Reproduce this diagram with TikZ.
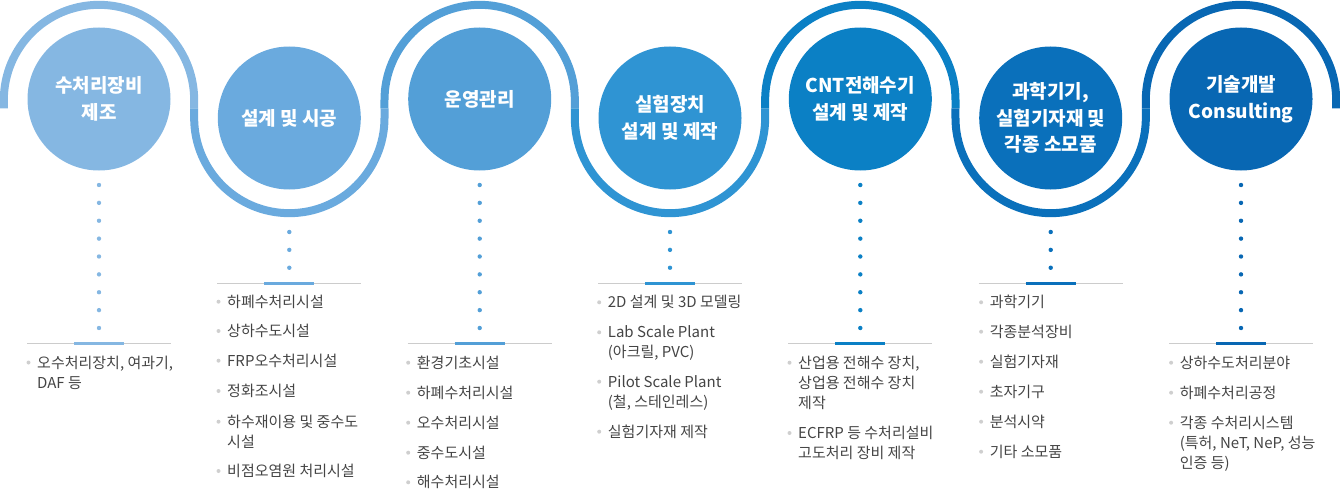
\documentclass[tikz,border=0pt]{standalone}
\usepackage{fontspec}
\setmainfont{Noto Sans CJK KR}
\definecolor{c1}{HTML}{85B7E2}
\definecolor{c2}{HTML}{6AAADE}
\definecolor{c3}{HTML}{539FD7}
\definecolor{c4}{HTML}{2F94D3}
\definecolor{c5}{HTML}{0B80C5}
\definecolor{c6}{HTML}{0A70BB}
\definecolor{c7}{HTML}{0867B3}
\definecolor{txtgray}{HTML}{444444}
\definecolor{bulgray}{HTML}{CFCFCF}
\definecolor{rulegray}{HTML}{CCCCCC}
\newcommand\litem[3]{\fill[bulgray] ({#1-8.5},{-#2}) circle (2);
  \node[itemtxt] at (#1,{-#2}) {#3};}
\newcommand\lcont[3]{\node[itemtxt] at (#1,{-#2}) {#3};}
\begin{document}
\begin{tikzpicture}[x=1pt,y=1pt,
  ring/.style={line width=8pt},
  disc/.style={circle, minimum size=143pt, inner sep=0pt, text=white,
    font=\fontsize{19}{26.7}\selectfont\bfseries, align=center},
  itemtxt/.style={anchor=west, inner sep=0pt, text=txtgray,
    font=\fontsize{15}{20}\selectfont, text height=13.1pt, text depth=1.8pt}]
\useasboundingbox (0,0) rectangle (1340,-500);
% ring segments
\foreach \i/\cy/\e/\c in {1/100/0/c1, 2/118/360/c2, 3/100/0/c3, 4/118/360/c4,
                          5/100/0/c5, 6/118/360/c6, 7/100/0/c7} {
  \pgfmathsetmacro\cx{99+(\i-1)*190.33}
  \draw[ring, \c] ({\cx-95.17},-108.5) -- ({\cx-95.17},-\cy)
     arc[start angle=180, end angle=\e, radius=95.17] -- ({\cx+95.17},-108.5);
}
% circles
\node[disc, fill=c1] (n1) at (99,-99) {수처리장비\\제조};
\node[disc, fill=c2] (n2) at (289.3,-118) {설계 및 시공};
\node[disc, fill=c3] (n3) at (479.7,-99) {운영관리};
\node[disc, fill=c4] (n4) at (670,-118) {실험장치\\설계 및 제작};
\node[disc, fill=c5] (n5) at (860.3,-99) {CNT전해수기\\설계 및 제작};
\node[disc, fill=c6] (n6) at (1050.7,-118) {과학기기,\\실험기자재 및\\각종 소모품};
\node[disc, fill=c7] (n7) at (1241,-99) {기술개발\\Consulting};
% dotted columns and rules
\foreach \cx/\c in {99/c1, 479.7/c3, 860.3/c5, 1241/c7} {
  \foreach \k in {0,...,8} \fill[\c] (\cx,{-185-\k*17.875}) circle (2.2);
  \draw[rulegray, line width=1pt] ({\cx-72},-343) -- ({\cx+72},-343);
  \draw[\c, line width=3.5pt] ({\cx-25},-343.3) -- ({\cx+25},-343.3);
}
\foreach \cx/\c in {289.3/c2, 670/c4, 1050.7/c6} {
  \foreach \k in {0,...,2} \fill[\c] (\cx,{-232-\k*17.875}) circle (2.2);
  \draw[rulegray, line width=1pt] ({\cx-72},-283) -- ({\cx+72},-283);
  \draw[\c, line width=3.5pt] ({\cx-25},-283.3) -- ({\cx+25},-283.3);
}
% lists
\litem{37}{362.5}{오수처리장치, 여과기,}
\lcont{37}{383}{DAF 등}

\litem{227}{301.7}{하폐수처리시설}
\litem{227}{331}{상하수도시설}
\litem{227}{360.7}{FRP오수처리시설}
\litem{227}{391}{정화조시설}
\litem{227}{421.7}{하수재이용 및 중수도}
\lcont{227}{441.7}{시설}
\litem{227}{471}{비점오염원 처리시설}

\litem{416.7}{362.7}{환경기초시설}
\litem{416.7}{392.7}{하폐수처리시설}
\litem{416.7}{422.7}{오수처리시설}
\litem{416.7}{452.7}{중수도시설}
\litem{416.7}{482.3}{해수처리시설}

\litem{607.7}{302.3}{2D 설계 및 3D 모델링}
\litem{607.7}{332.3}{Lab Scale Plant}
\lcont{607.7}{352.3}{(아크릴, PVC)}
\litem{607.7}{381.7}{Pilot Scale Plant}
\lcont{607.7}{401.7}{(철, 스테인레스)}
\litem{607.7}{431.7}{실험기자재 제작}

\litem{798}{362.7}{산업용 전해수 장치,}
\lcont{798}{382.7}{상업용 전해수 장치}
\lcont{798}{402.7}{제작}
\litem{798}{433}{ECFRP 등 수처리설비}
\lcont{798}{452.7}{고도처리 장비 제작}

\litem{989.6}{302.3}{과학기기}
\litem{989.6}{331.7}{각종분석장비}
\litem{989.6}{361.7}{실험기자재}
\litem{989.6}{391.7}{초자기구}
\litem{989.6}{421.7}{분석시약}
\litem{989.6}{451.7}{기타 소모품}

\litem{1179.6}{362.7}{상하수도처리분야}
\litem{1179.6}{392.7}{하폐수처리공정}
\litem{1179.6}{422.7}{각종 수처리시스템}
\lcont{1179.6}{443.3}{(특허, NeT, NeP, 성능}
\lcont{1179.6}{463.3}{인증 등)}
\end{tikzpicture}
\end{document}
